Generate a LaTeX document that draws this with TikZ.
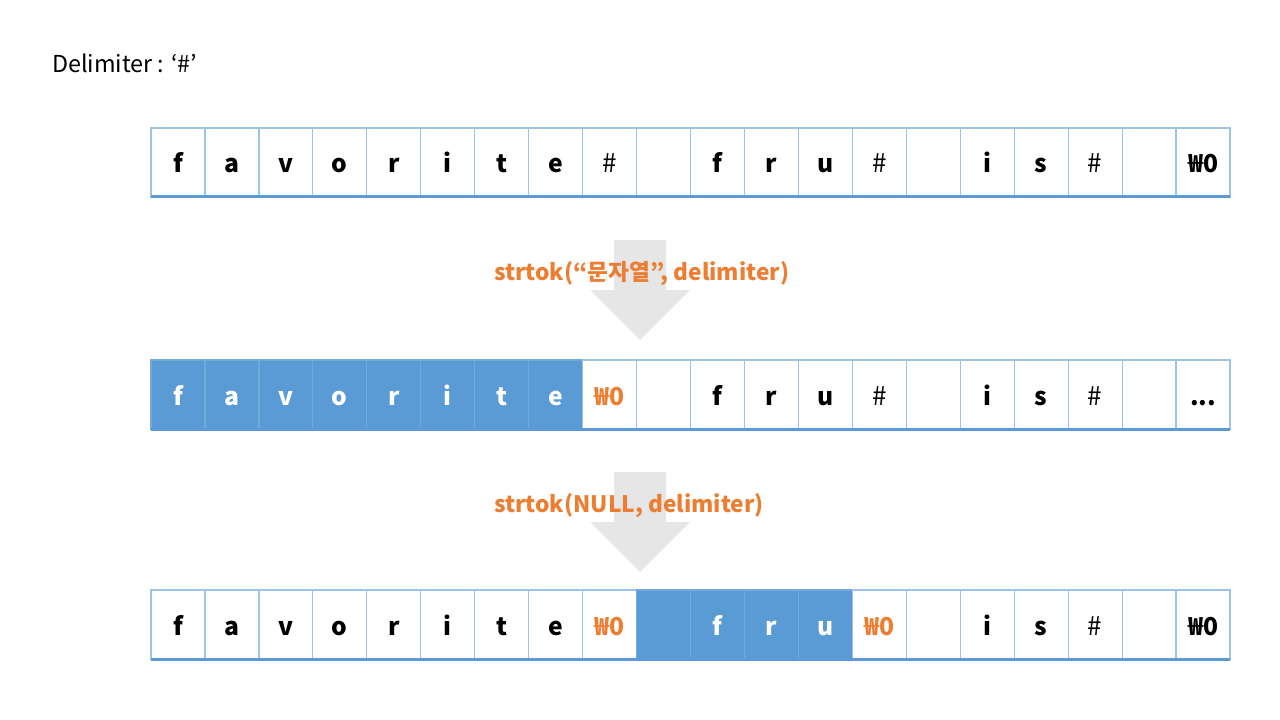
\documentclass[tikz,border=0pt]{standalone}
\usepackage{fontspec}
\setmainfont{Noto Sans CJK KR}
\definecolor{cellline}{HTML}{9DC3E6}
\definecolor{cellbottom}{HTML}{5B9BD5}
\definecolor{hlblue}{HTML}{5B9BD5}
\definecolor{orng}{HTML}{ED7D31}
\definecolor{arrowgray}{HTML}{E7E6E6}
\newcommand\mythreedots{...}
\newcommand\hsh{{\mdseries\fontsize{19.5}{18}\selectfont\#}}
\begin{document}
\begin{tikzpicture}[x=0.75pt,y=-0.75pt,
  cell/.style={draw=cellline, line width=0.9pt, minimum width=40.46pt, minimum height=51.75pt,
    inner sep=0pt, outer sep=0pt, anchor=north west,
    font=\fontsize{18.5}{18}\selectfont\bfseries, text height=15.75pt, text depth=0pt},
  plain/.style={},
  blu/.style={fill=hlblue, draw=hlblue!65!cellline, text=white},
  nul/.style={text=orng},
  bottomline/.style={draw=cellbottom, line width=2.25pt},
  label/.style={anchor=base west, text=orng, font=\fontsize{17}{17}\selectfont\bfseries, inner sep=0pt},
  bigarrow/.style={fill=arrowgray}
]
\useasboundingbox (0,0) rectangle (1280,720);

\node[anchor=base west, inner sep=0pt, font=\fontsize{17.5}{18}\selectfont] (delim) at (52,73) {Delimiter : ‘\#’};

% row 1
\foreach \t/\s [count=\i from 0] in {f/plain,a/plain,v/plain,o/plain,r/plain,i/plain,t/plain,e/plain,\hsh/plain,/plain,f/plain,r/plain,u/plain,\hsh/plain,/plain,i/plain,s/plain,\hsh/plain,/plain,₩0/plain}
  \node[cell,\s] (r1c\i) at (151+\i*53.95,128) {\t};
\draw[bottomline] (r1c0.south west) -- (r1c19.south east);

% arrow 1
\fill[bigarrow] (614,240) -- (666,240) -- (666,290) -- (690,290) -- (640,340) -- (590,290) -- (614,290) -- cycle;
\node[label] (lab1) at (494,280) {strtok(“문자열”, delimiter)};

% row 2
\foreach \t/\s [count=\i from 0] in {f/blu,a/blu,v/blu,o/blu,r/blu,i/blu,t/blu,e/blu,₩0/nul,/plain,f/plain,r/plain,u/plain,\hsh/plain,/plain,i/plain,s/plain,\hsh/plain,/plain,\mythreedots/plain}
  \node[cell,\s] (r2c\i) at (151+\i*53.95,360) {\t};
\draw[bottomline] (r2c0.south west) -- (r2c19.south east);

% arrow 2
\fill[bigarrow] (614,472) -- (666,472) -- (666,522) -- (690,522) -- (640,572) -- (590,522) -- (614,522) -- cycle;
\node[label] (lab2) at (494,512) {strtok(NULL, delimiter)};

% row 3
\foreach \t/\s [count=\i from 0] in {f/plain,a/plain,v/plain,o/plain,r/plain,i/plain,t/plain,e/plain,₩0/nul,/blu,f/blu,r/blu,u/blu,₩0/nul,/plain,i/plain,s/plain,\hsh/plain,/plain,₩0/plain}
  \node[cell,\s] (r3c\i) at (151+\i*53.95,590) {\t};
\draw[bottomline] (r3c0.south west) -- (r3c19.south east);
\end{tikzpicture}
\end{document}
